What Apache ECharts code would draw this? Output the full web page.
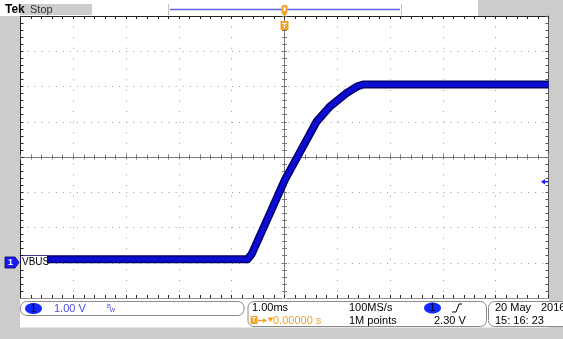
<!DOCTYPE html>
<html><head><meta charset="utf-8">
<script src="https://cdn.jsdelivr.net/npm/echarts@6/dist/echarts.min.js"></script>
<style>html,body{margin:0;padding:0;background:#cccccc;}#c{width:563px;height:339px;}</style>
</head><body><div id="c"></div><script>
// Time axis (ms, trigger at 0) and channel-1 voltage (V)
const timeMs = [-5, -0.70, -0.62, -0.246, 0.006, 0.239, 0.417, 0.606, 0.858, 1.174, 1.364, 1.49, 5];
const volts  = [0.10, 0.10, 0.25, 1.50, 2.35, 2.99, 3.48, 4.00, 4.43, 4.81, 4.99, 5.06, 5.06];
const xRange = [-5, 5];   // 10 divisions, 1.00 ms/div
const yRange = [-1, 7];   // 8 divisions, 1.00 V/div, ground one division above bottom
const triggerLevel = 2.30;
const channelName = 'VBUS';

const FONT = '"Liberation Sans", Arial, sans-serif';
const ORANGE = '#f2a12a';
const chart = echarts.init(document.getElementById('c'), null, {renderer: 'canvas'});

function xAx(pos, offset, inside, split, color, minor) {
  return {type: 'value', min: xRange[0], max: xRange[1], interval: 1, position: pos, offset: offset,
    axisLine: {show: true, onZero: false, lineStyle: {color: color, width: 1}},
    axisTick: {show: true, inside: inside, length: minor, lineStyle: {color: color}},
    minorTick: {show: true, splitNumber: 5, length: minor, lineStyle: {color: color}},
    axisLabel: {show: false},
    splitLine: {show: split, lineStyle: {type: [1, 9.56], color: '#9a9a9a', width: 1}}};
}
function yAx(pos, offset, inside, split, color, minor) {
  return {type: 'value', min: yRange[0], max: yRange[1], interval: 1, position: pos, offset: offset,
    axisLine: {show: true, onZero: false, lineStyle: {color: color, width: 1}},
    axisTick: {show: true, inside: inside, length: minor, lineStyle: {color: color}},
    minorTick: {show: true, splitNumber: 5, length: minor, lineStyle: {color: color}},
    axisLabel: {show: false},
    splitLine: {show: split, lineStyle: {type: [1, 6.05], color: '#9a9a9a', width: 1}}};
}

const data = timeMs.map((t, i) => [t, volts[i]]);

function txt(x, y, s, color, size, weight) {
  return {type: 'text', x: x, y: y, z: 120,
    style: {text: s, fill: color, font: (weight ? weight + ' ' : '') + (size || 11) + 'px ' + FONT, textVerticalAlign: 'middle'}};
}

const graphics = [
  // top bar
  {type: 'rect', shape: {x: 0, y: 0, width: 478, height: 16}, style: {fill: '#ffffff'}, z: 100},
  {type: 'rect', shape: {x: 20, y: 4, width: 72, height: 11}, style: {fill: '#cdcdcd'}, z: 101},
  {type: 'line', shape: {x1: 168.5, y1: 4, x2: 168.5, y2: 15}, style: {stroke: '#c0c0c0', lineWidth: 1}, z: 101},
  {type: 'line', shape: {x1: 401.5, y1: 4, x2: 401.5, y2: 15}, style: {stroke: '#c0c0c0', lineWidth: 1}, z: 101},
  {type: 'line', shape: {x1: 170, y1: 9.5, x2: 400, y2: 9.5}, style: {stroke: '#6464e6', lineWidth: 1.5}, z: 101},
  txt(5, 10, 'Tek', '#000', 12, 'bold'),
  txt(30, 10, 'Stop', '#333', 11),
  // trigger position marker (top)
  {type: 'rect', shape: {x: 281.5, y: 5, width: 6, height: 8, r: 2}, style: {fill: ORANGE}, z: 110},
  {type: 'rect', shape: {x: 283.5, y: 7, width: 2, height: 4}, style: {fill: '#ffffff'}, z: 111},
  {type: 'polygon', shape: {points: [[281, 12.5], [288, 12.5], [284.5, 16.5]]}, style: {fill: ORANGE}, z: 110},
  {type: 'rect', shape: {x: 280.5, y: 21, width: 8, height: 9}, style: {fill: ORANGE}, z: 110},
  {type: 'text', x: 284.5, y: 25.5, z: 111, style: {text: 'T', fill: '#fff', font: 'bold 8px ' + FONT, textAlign: 'center', textVerticalAlign: 'middle'}},
  // channel ground marker + label
  {type: 'rect', shape: {x: 21, y: 256, width: 26, height: 12}, style: {fill: '#ffffff'}, z: 105},
  txt(22, 262.5, channelName, '#000', 10),
  {type: 'polygon', shape: {points: [[5, 257], [15, 257], [19, 262.5], [15, 268], [5, 268]]}, style: {fill: '#1a1aff', stroke: '#000060', lineWidth: 0.8}, z: 110},
  {type: 'text', x: 10.5, y: 262.8, z: 111, style: {text: '1', fill: '#fff', font: 'bold 9px ' + FONT, textAlign: 'center', textVerticalAlign: 'middle'}},
  // trigger level arrow (right)
  {type: 'polygon', shape: {points: [[541, 181.7], [545, 179], [545, 184.4]]}, style: {fill: '#1a1aff'}, z: 110},
  {type: 'line', shape: {x1: 544, y1: 181.7, x2: 548, y2: 181.7}, style: {stroke: '#1a1aff', lineWidth: 1.5}, z: 110},
  // bottom info area
  {type: 'rect', shape: {x: 20, y: 298.5, width: 529, height: 29}, style: {fill: '#ffffff'}, z: 100},
  {type: 'rect', shape: {x: 20.5, y: 301.5, width: 223.5, height: 14, r: 6}, style: {fill: '#fff', stroke: '#8a8a8a', lineWidth: 1}, z: 101},
  {type: 'ellipse', shape: {cx: 33.5, cy: 308.5, rx: 8.5, ry: 5.5}, style: {fill: '#1428ff'}, z: 110},
  {type: 'text', x: 33.5, y: 309, z: 111, style: {text: '1', fill: '#000000', font: '10px ' + FONT, textAlign: 'center', textVerticalAlign: 'middle'}},
  txt(54, 309, '1.00 V', '#4b4be6', 11),
  txt(107, 306.5, 'B', '#4b4be6', 6),
  txt(110, 310.5, 'w', '#4b4be6', 7),
  {type: 'rect', shape: {x: 248, y: 301.5, width: 238.5, height: 25, r: 6}, style: {fill: '#fff', stroke: '#8a8a8a', lineWidth: 1}, z: 101},
  txt(252, 308, '1.00ms', '#000', 11),
  {type: 'rect', shape: {x: 250.5, y: 316, width: 7, height: 8}, style: {fill: ORANGE}, z: 110},
  {type: 'text', x: 254, y: 320.3, z: 111, style: {text: 'T', fill: '#fff', font: 'bold 7px ' + FONT, textAlign: 'center', textVerticalAlign: 'middle'}},
  {type: 'line', shape: {x1: 258, y1: 320.5, x2: 264, y2: 320.5}, style: {stroke: ORANGE, lineWidth: 1.5}, z: 110},
  {type: 'polygon', shape: {points: [[263, 318], [267, 320.5], [263, 323]]}, style: {fill: ORANGE}, z: 110},
  {type: 'polygon', shape: {points: [[267.5, 317.5], [273.5, 317.5], [270.5, 322]]}, style: {fill: ORANGE}, z: 110},
  txt(273, 320.5, '0.00000 s', ORANGE, 11),
  txt(349, 308, '100MS/s', '#000', 11),
  txt(349, 320.5, '1M points', '#000', 11),
  {type: 'ellipse', shape: {cx: 432.5, cy: 308, rx: 8.5, ry: 5.5}, style: {fill: '#1428ff'}, z: 110},
  {type: 'text', x: 432.5, y: 308.5, z: 111, style: {text: '1', fill: '#000000', font: '10px ' + FONT, textAlign: 'center', textVerticalAlign: 'middle'}},
  {type: 'polyline', shape: {points: [[452, 312], [456, 312], [459, 304], [462, 304]]}, style: {stroke: '#000', lineWidth: 1, fill: null}, z: 110},
  txt(434, 320.5, triggerLevel.toFixed(2) + ' V', '#000', 11),
  {type: 'rect', shape: {x: 488.5, y: 301.5, width: 90, height: 25, r: 6}, style: {fill: '#fff', stroke: '#8a8a8a', lineWidth: 1}, z: 101},
  txt(495, 308, '20 May', '#000', 11),
  txt(541, 308, '2016', '#000', 11),
  txt(495, 320.5, '15: 16: 23', '#000', 11)
];

chart.setOption({
  animation: false,
  backgroundColor: '#cccccc',
  grid: {left: 20.5, top: 16, width: 528, height: 282, show: true, backgroundColor: '#ffffff', borderWidth: 0},
  xAxis: [
    xAx('bottom', 0, true, true, '#222', 3),
    xAx('top', 0, true, false, '#222', 3),
    xAx('bottom', -141, true, false, '#7a7a7a', 2.5),
    xAx('bottom', -141, false, false, '#7a7a7a', 2.5)
  ],
  yAxis: [
    yAx('left', 0, true, true, '#222', 3),
    yAx('right', 0, true, false, '#555', 3),
    yAx('left', -264, true, false, '#7a7a7a', 2.5),
    yAx('left', -264, false, false, '#7a7a7a', 2.5)
  ],
  series: [
    {type: 'line', xAxisIndex: 0, yAxisIndex: 0, data: data, showSymbol: false, silent: true, z: 5,
     lineStyle: {width: 8, color: '#00006a', join: 'round'}},
    {type: 'line', xAxisIndex: 0, yAxisIndex: 0, data: data, showSymbol: false, silent: true, z: 6,
     lineStyle: {width: 5, color: '#0c0cd4', join: 'round'}}
  ],
  graphic: graphics
});
</script></body></html>
